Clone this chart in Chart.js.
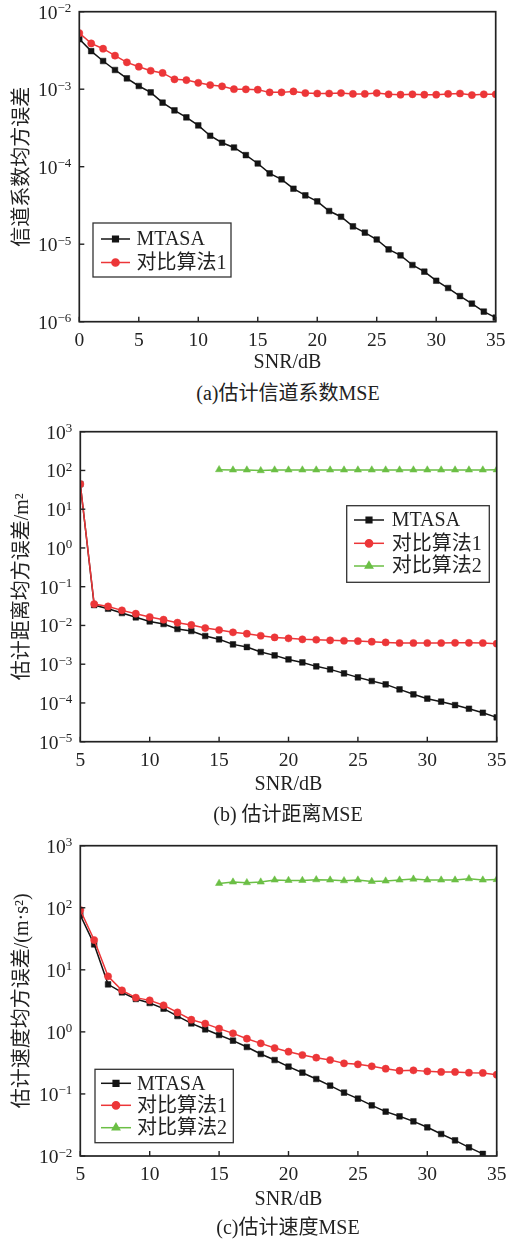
<!DOCTYPE html>
<html>
<head>
<meta charset="utf-8">
<script src="https://cdn.jsdelivr.net/npm/chart.js@4.4.0/dist/chart.umd.min.js"></script>
<style>
  body { margin: 0; background: #fff; width: 514px; height: 1241px; position: relative; overflow: hidden; }
  .wrap { position: absolute; left: 0; width: 514px; }
  .cap { position: absolute; left: 80px; width: 416px; text-align: center; color: #222;
         font: 20px "Liberation Serif", "Noto Sans CJK SC", serif; line-height: 24px; }
</style>
</head>
<body>
<div class="wrap" style="top:0;height:380px"><canvas id="chartA"></canvas></div>
<div class="wrap" style="top:410px;height:395px"><canvas id="chartB"></canvas></div>
<div class="wrap" style="top:830px;height:395px"><canvas id="chartC"></canvas></div>
<div class="cap" style="top:381px">(a)估计信道系数MSE</div>
<div class="cap" style="top:802px">(b) 估计距离MSE</div>
<div class="cap" style="top:1215px">(c)估计速度MSE</div>

<script>
// ---- data ----
const snrA = [0, 1, 2, 3, 4, 5, 6, 7, 8, 9, 10, 11, 12, 13, 14, 15, 16, 17, 18, 19, 20, 21, 22, 23, 24, 25, 26, 27, 28, 29, 30, 31, 32, 33, 34, 35];
const mtasaA = [4.43e-3, 3.1e-3, 2.31e-3, 1.77e-3, 1.38e-3, 1.10e-3, 9.1e-4, 6.7e-4, 5.33e-4, 4.33e-4, 3.41e-4, 2.51e-4, 2.04e-4, 1.77e-4, 1.41e-4, 1.10e-4, 8.2e-5, 6.87e-5, 5.2e-5, 4.27e-5, 3.57e-5, 2.68e-5, 2.26e-5, 1.70e-5, 1.41e-5, 1.15e-5, 8.57e-6, 7.18e-6, 5.39e-6, 4.42e-6, 3.38e-6, 2.72e-6, 2.14e-6, 1.71e-6, 1.35e-6, 1.13e-6];
const comp1A = [5.3e-3, 3.9e-3, 3.33e-3, 2.71e-3, 2.22e-3, 1.95e-3, 1.73e-3, 1.62e-3, 1.34e-3, 1.31e-3, 1.21e-3, 1.13e-3, 1.09e-3, 1.0e-3, 9.96e-4, 9.86e-4, 9.1e-4, 9.1e-4, 9.37e-4, 8.92e-4, 8.8e-4, 8.8e-4, 8.9e-4, 8.7e-4, 8.7e-4, 8.9e-4, 8.6e-4, 8.5e-4, 8.6e-4, 8.5e-4, 8.5e-4, 8.7e-4, 8.8e-4, 8.4e-4, 8.6e-4, 8.6e-4];

const snrB = [5, 6, 7, 8, 9, 10, 11, 12, 13, 14, 15, 16, 17, 18, 19, 20, 21, 22, 23, 24, 25, 26, 27, 28, 29, 30, 31, 32, 33, 34, 35];
const mtasaB = [44.6, 0.0336, 0.027, 0.0209, 0.0162, 0.0127, 0.0109, 0.0081, 0.00718, 0.00533, 0.00438, 0.00325, 0.00277, 0.00206, 0.00169, 0.00133, 0.00111, 8.8e-4, 7.36e-4, 5.8e-4, 4.57e-4, 3.68e-4, 3.02e-4, 2.24e-4, 1.67e-4, 1.29e-4, 1.08e-4, 8.8e-5, 7.1e-5, 5.6e-5, 4.25e-5];
const comp1B = [44.6, 0.0357, 0.031, 0.0245, 0.0201, 0.0165, 0.0141, 0.0118, 0.0103, 0.00857, 0.00762, 0.00664, 0.00613, 0.00543, 0.00492, 0.00464, 0.00438, 0.00428, 0.00412, 0.00403, 0.00394, 0.00381, 0.00365, 0.00352, 0.00352, 0.00352, 0.00352, 0.00356, 0.00356, 0.00352, 0.00338];
const comp2B = [null, null, null, null, null, null, null, null, null, null, 105, 103, 103, 99, 103, 103, 103, 103, 103, 103, 103, 103, 103, 103, 103, 103, 103, 103, 103, 103, 104];

const snrC = snrB;
const mtasaC = [76.4, 25.7, 5.83, 4.34, 3.39, 2.92, 2.37, 1.80, 1.37, 1.10, 0.891, 0.722, 0.570, 0.440, 0.352, 0.275, 0.220, 0.174, 0.136, 0.105, 0.0839, 0.0655, 0.0518, 0.0436, 0.0362, 0.029, 0.0226, 0.0179, 0.0138, 0.0108, null];
const comp1C = [91.9, 30.2, 7.85, 4.67, 3.56, 3.22, 2.68, 2.06, 1.57, 1.36, 1.13, 0.947, 0.777, 0.653, 0.549, 0.480, 0.424, 0.384, 0.352, 0.311, 0.300, 0.279, 0.255, 0.237, 0.240, 0.231, 0.226, 0.226, 0.220, 0.218, 0.204];
const comp2C = [null, null, null, null, null, null, null, null, null, null, 247, 260, 254, 260, 280, 276, 276, 283, 280, 273, 280, 266, 270, 280, 290, 280, 280, 280, 294, 280, 285];

// tick labels
const xTicksA = [0, 5, 10, 15, 20, 25, 30, 35];
const xTicksBC = [5, 10, 15, 20, 25, 30, 35];
const yExpA = [-6, -5, -4, -3, -2];
const yExpB = [-5, -4, -3, -2, -1, 0, 1, 2, 3];
const yExpC = [-2, -1, 0, 1, 2, 3];

const seriesNames = ['MTASA', '对比算法1', '对比算法2'];

// ---- styling ----
const FONT = '"Liberation Serif", "Noto Sans CJK SC", serif';
const INK = '#222';
const BLACK = '#141414';
const RED = '#ec3638';
const GREEN = '#6bbf45';

function toPoints(xs, ys) {
    return xs.map((x, i) => ({ x: x, y: ys[i] }));
}

function series(name, xs, ys, color, style, radius, order) {
    return {
        label: name,
        data: toPoints(xs, ys),
        borderColor: color,
        backgroundColor: color,
        borderWidth: 1.5,
        pointStyle: style,
        pointRadius: radius,
        pointBorderWidth: 0.5,
        pointHoverRadius: radius,
        tension: 0,
        spanGaps: false,
        clip: 0,
        order: order
    };
}

function line(ctx, x0, y0, x1, y1) {
    ctx.beginPath();
    ctx.moveTo(x0, y0);
    ctx.lineTo(x1, y1);
    ctx.stroke();
}

// frame, inward ticks, 10^n labels and the boxed legend
const paperAxes = {
    id: 'paperAxes',
    afterDatasetsDraw(chart, args, opts) {
        const ctx = chart.ctx;
        const a = chart.chartArea;
        const xs = chart.scales.x;
        const ys = chart.scales.y;
        ctx.save();
        ctx.strokeStyle = INK;
        ctx.fillStyle = INK;
        ctx.lineWidth = 1.7;
        ctx.strokeRect(a.left, a.top, a.right - a.left, a.bottom - a.top);

        ctx.lineWidth = 1.4;
        ctx.font = '19.5px ' + FONT;
        ctx.textAlign = 'center';
        ctx.textBaseline = 'alphabetic';
        xs.ticks.forEach(t => {
            const px = xs.getPixelForValue(t.value);
            line(ctx, px, a.bottom, px, a.bottom - 5);
            ctx.fillText(String(t.value), px, a.bottom + 24);
        });

        ctx.textAlign = 'left';
        ys.ticks.forEach(t => {
            const py = ys.getPixelForValue(t.value);
            line(ctx, a.left, py, a.left + 5, py);
            const e = Math.round(Math.log10(t.value));
            const sup = e < 0 ? '\u2212' + (-e) : String(e);
            ctx.font = '19.5px ' + FONT;
            const w1 = ctx.measureText('10').width;
            ctx.font = '13px ' + FONT;
            const w2 = ctx.measureText(sup).width;
            const right = a.left - 8;
            ctx.font = '19.5px ' + FONT;
            ctx.fillText('10', right - w1 - w2, py + 7);
            ctx.font = '13px ' + FONT;
            ctx.fillText(sup, right - w2, py + 0.5);
        });

        const lg = opts.legend;
        if (lg) {
            ctx.fillStyle = '#fff';
            ctx.fillRect(lg.box[0], lg.box[1], lg.box[2], lg.box[3]);
            ctx.strokeStyle = '#333';
            ctx.lineWidth = 1.3;
            ctx.strokeRect(lg.box[0], lg.box[1], lg.box[2], lg.box[3]);
            ctx.font = '20px ' + FONT;
            ctx.textBaseline = 'middle';
            ctx.textAlign = 'left';
            chart.data.datasets.forEach((ds, i) => {
                const y = lg.rows[i];
                ctx.strokeStyle = ds.borderColor;
                ctx.fillStyle = ds.backgroundColor;
                ctx.lineWidth = 1.5;
                line(ctx, lg.line[0], y, lg.line[1], y);
                Chart.helpers.drawPoint(ctx, {
                    pointStyle: ds.pointStyle, rotation: 0,
                    radius: ds.pointRadius, borderWidth: 0.5
                }, (lg.line[0] + lg.line[1]) / 2, y);
                ctx.fillStyle = INK;
                ctx.fillText(ds.label, lg.textX, y + 1);
            });
        }
        ctx.restore();
    }
};

function makeChart(id, cfg) {
    const top = cfg.area[1];
    const right = 514 - cfg.area[2];
    const bottomH = cfg.height - cfg.area[3];
    return new Chart(document.getElementById(id), {
        type: 'line',
        data: { datasets: cfg.datasets },
        plugins: [paperAxes],
        options: {
            responsive: true,
            maintainAspectRatio: false,
            animation: false,
            events: [],
            layout: { padding: { top: top, right: right, left: 0, bottom: 0 } },
            plugins: {
                legend: { display: false },
                tooltip: { enabled: false },
                paperAxes: { legend: cfg.legend }
            },
            scales: {
                x: {
                    type: 'linear',
                    min: cfg.xMin,
                    max: cfg.xMax,
                    grid: { display: false },
                    border: { display: false },
                    ticks: { display: false },
                    afterBuildTicks: s => { s.ticks = cfg.xTicks.map(v => ({ value: v })); },
                    afterFit: s => { s.height = bottomH; },
                    title: {
                        display: true, text: 'SNR/dB', color: INK,
                        font: { family: FONT, size: 20 },
                        padding: { top: 0, bottom: cfg.xTitlePad }
                    }
                },
                y: {
                    type: 'logarithmic',
                    min: Math.pow(10, cfg.yExp[0]),
                    max: Math.pow(10, cfg.yExp[cfg.yExp.length - 1]),
                    grid: { display: false },
                    border: { display: false },
                    ticks: { display: false },
                    afterBuildTicks: s => { s.ticks = cfg.yExp.map(e => ({ value: Math.pow(10, e) })); },
                    afterFit: s => { s.width = cfg.area[0]; },
                    title: {
                        display: true, text: cfg.yTitle, color: INK,
                        font: { family: FONT, size: 20 },
                        padding: { top: 11, bottom: 0 }
                    }
                }
            }
        }
    });
}

makeChart('chartA', {
    height: 380,
    area: [79.3, 11.7, 495.7, 321.7],
    xMin: 0, xMax: 35, xTicks: xTicksA, yExp: yExpA,
    xTitlePad: 5,
    yTitle: '信道系数均方误差',
    datasets: [
        series(seriesNames[0], snrA, mtasaA, BLACK, 'rect', 4, 2),
        series(seriesNames[1], snrA, comp1A, RED, 'circle', 3.6, 1)
    ],
    legend: { box: [93, 223, 138, 54], rows: [239, 262.5], line: [101, 130], textX: 136.5 }
});

makeChart('chartB', {
    height: 395,
    area: [80.3, 21.7, 496.7, 331.7],
    xMin: 5, xMax: 35, xTicks: xTicksBC, yExp: yExpB,
    xTitlePad: 8,
    yTitle: '估计距离均方误差/m²',
    datasets: [
        series(seriesNames[0], snrB, mtasaB, BLACK, 'rect', 4, 2),
        series(seriesNames[1], snrB, comp1B, RED, 'circle', 3.6, 1),
        series(seriesNames[2], snrB, comp2B, GREEN, 'triangle', 4.2, 3)
    ],
    legend: { box: [346.7, 95.7, 142.6, 76.6], rows: [110, 133.3, 156], line: [354, 384], textX: 391.7 }
});

makeChart('chartC', {
    height: 395,
    area: [80.3, 15.7, 496.7, 326],
    xMin: 5, xMax: 35, xTicks: xTicksBC, yExp: yExpC,
    xTitlePad: 13,
    yTitle: '估计速度均方误差/(m·s²)',
    datasets: [
        series(seriesNames[0], snrC, mtasaC, BLACK, 'rect', 4, 2),
        series(seriesNames[1], snrC, comp1C, RED, 'circle', 3.6, 1),
        series(seriesNames[2], snrC, comp2C, GREEN, 'triangle', 4.2, 3)
    ],
    legend: { box: [95, 239.3, 138.3, 73.4], rows: [253.3, 275.3, 297.7], line: [101, 131], textX: 137 }
});
</script>
</body>
</html>
